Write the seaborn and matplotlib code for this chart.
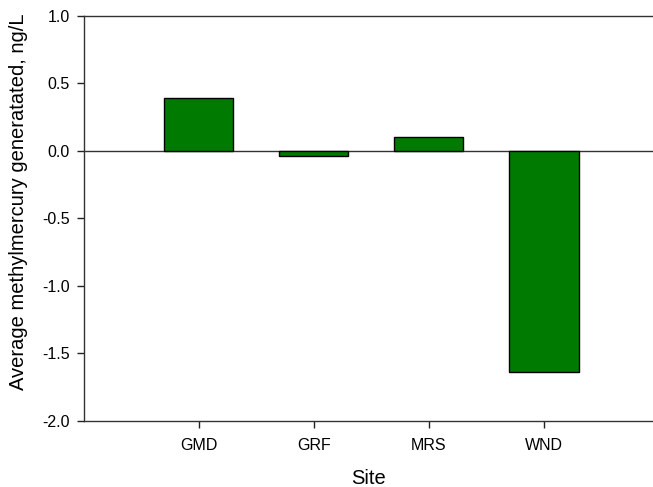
import matplotlib
matplotlib.use('Agg')

import matplotlib.pyplot as plt
import pandas as pd
import seaborn as sns

sites = ['GMD', 'GRF', 'MRS', 'WND']
mehg_generated = [0.39, -0.035, 0.10, -1.64]
y_ticks = [1.0, 0.5, 0.0, -0.5, -1.0, -1.5, -2.0]

sns.set_style('white')
plt.rcParams['font.family'] = ['Liberation Sans', 'DejaVu Sans']
plt.rcParams['text.color'] = 'black'
plt.rcParams['axes.labelcolor'] = 'black'
plt.rcParams['xtick.color'] = 'black'
plt.rcParams['ytick.color'] = 'black'

df = pd.DataFrame({'Site': sites, 'MeHg': mehg_generated})

fig = plt.figure(figsize=(6.53, 4.87), dpi=100)
ax = fig.add_axes([0.128, 0.1355, 0.8725, 0.832])

sns.barplot(data=df, x='Site', y='MeHg', color='#007a00', saturation=1,
            edgecolor='black', linewidth=1.0, width=0.6, ax=ax)
ax.axhline(0, color='#333333', linewidth=1.0, zorder=0)

ax.set_xlim(-1, 3.95)
ax.set_ylim(-2.0, 1.0)
ax.set_yticks(y_ticks)
ax.set_yticklabels([f'{v:.1f}' for v in y_ticks])
ax.set_xlabel('Site', fontsize=14.5)
ax.set_ylabel('Average methylmercury generatated, ng/L', fontsize=14.5)
ax.xaxis.set_label_coords(0.5, -0.118)
ax.yaxis.set_label_coords(-0.098, 0.54)
ax.tick_params(axis='both', direction='out', length=5, width=1, labelsize=11.5,
               left=True, bottom=True, color='#222222')
ax.tick_params(axis='x', pad=7.5)
ax.tick_params(axis='y', pad=5)

for side in ['left', 'bottom', 'top']:
    ax.spines[side].set_color('#333333')
    ax.spines[side].set_linewidth(1.0)
ax.spines['right'].set_visible(False)

fig.savefig('out.png', dpi=100)
